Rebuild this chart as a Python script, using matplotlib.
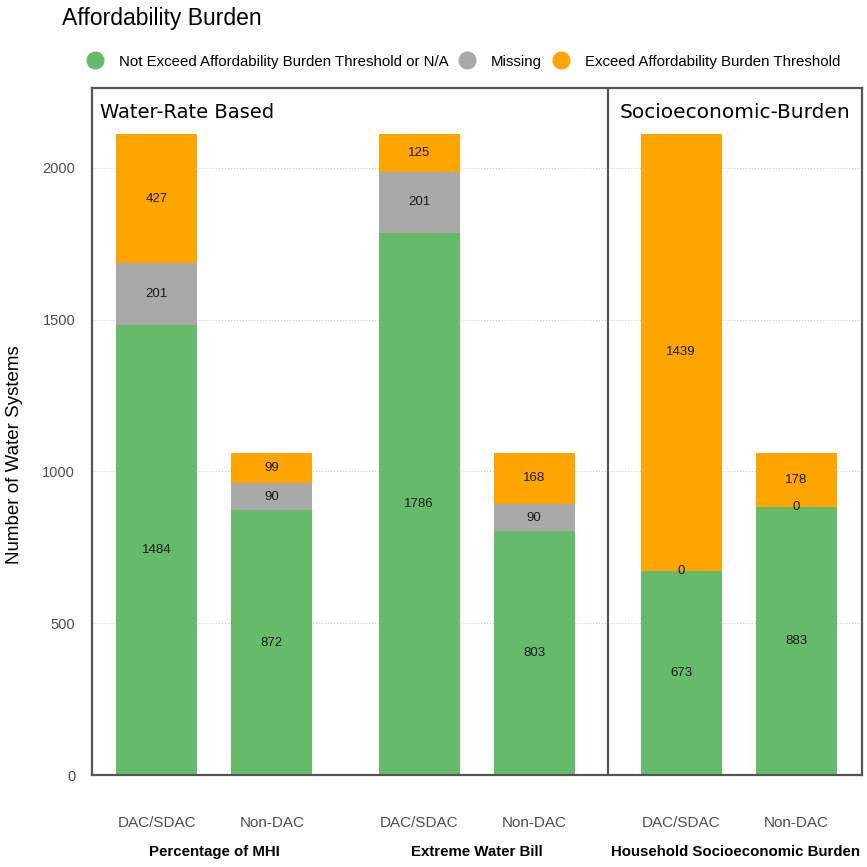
import matplotlib.pyplot as plt
import matplotlib.transforms as mtransforms
from matplotlib.lines import Line2D

plt.rcParams['font.family'] = ['Liberation Sans', 'DejaVu Sans']

# data
groups = ['Percentage of MHI', 'Extreme Water Bill', 'Household Socioeconomic Burden']
bar_labels = ['DAC/SDAC', 'Non-DAC', 'DAC/SDAC', 'Non-DAC', 'DAC/SDAC', 'Non-DAC']
not_exceed = [1484, 872, 1786, 803, 673, 883]
missing = [201, 90, 201, 90, 0, 0]
exceed = [427, 99, 125, 168, 1439, 178]

series_names = ['Not Exceed Affordability Burden Threshold or N/A', 'Missing',
                'Exceed Affordability Burden Threshold']
colors = ['#65BB6A', '#A9A9A9', '#FFA500']

# positions: two bars per group, gap between groups
xpos = [0, 1, 2.28, 3.28, 4.56, 5.56]
group_centers = [0.5, 2.78, 5.03]
divider = 3.92

fig = plt.figure(figsize=(8.67, 8.67), dpi=100)
ax = fig.add_axes([0.106, 0.106, 0.888, 0.7925])

bottom = [0] * 6
for vals, col in zip([not_exceed, missing, exceed], colors):
    ax.bar(xpos, vals, width=0.704, bottom=bottom, color=col, zorder=2)
    for x, b, v in zip(xpos, bottom, vals):
        ax.text(x, b + v / 2, str(v), ha='center', va='center', fontsize=9.5,
                color='#1a1a1a', zorder=3)
    bottom = [b + v for b, v in zip(bottom, vals)]

ax.set_xlim(-0.565, 6.13)
ax.set_ylim(0, 2263)
ax.set_yticks([0, 500, 1000, 1500, 2000])
ax.yaxis.grid(True, linestyle=':', color='#cccccc', linewidth=0.8, zorder=0)
ax.set_axisbelow(True)
for s in ax.spines.values():
    s.set_color('#555555')
    s.set_linewidth(1.6)
ax.axvline(divider, color='#555555', linewidth=1.6, zorder=4)

ax.set_xticks(xpos, bar_labels)
ax.tick_params(axis='x', length=0, pad=29.5, labelsize=11, labelcolor='#4d4d4d')
ax.tick_params(axis='y', length=0, pad=12, labelsize=10.5, labelcolor='#4d4d4d')
ax.set_ylabel('Number of Water Systems', fontsize=13.5)
ax.yaxis.set_label_coords(-0.0896, 0.467)

trans = mtransforms.blended_transform_factory(ax.transData, ax.transAxes)
for gx, g in zip(group_centers, groups):
    ax.text(gx, -0.112, g, transform=trans, ha='center', va='center',
            fontsize=10.8, fontweight='bold')

ax.text(0.011, 0.978, 'Water-Rate Based', transform=ax.transAxes, ha='left', va='top',
        fontsize=14, family='DejaVu Sans')
ax.text(divider + 0.1, 0.978, 'Socioeconomic-Burden', transform=trans, ha='left', va='top',
        fontsize=14.5, family='DejaVu Sans')

fig.text(0.072, 0.979, 'Affordability Burden', ha='left', va='center', fontsize=16.5)

handles = [Line2D([], [], marker='o', linestyle='', markersize=12, color=c) for c in colors]
fig.legend(handles, series_names, loc='center left', bbox_to_anchor=(0.085, 0.929),
           ncol=3, frameon=False, fontsize=10.8, handlelength=1.0, handletextpad=1.1,
           columnspacing=0.75)

fig.savefig('out.png', dpi=100)
